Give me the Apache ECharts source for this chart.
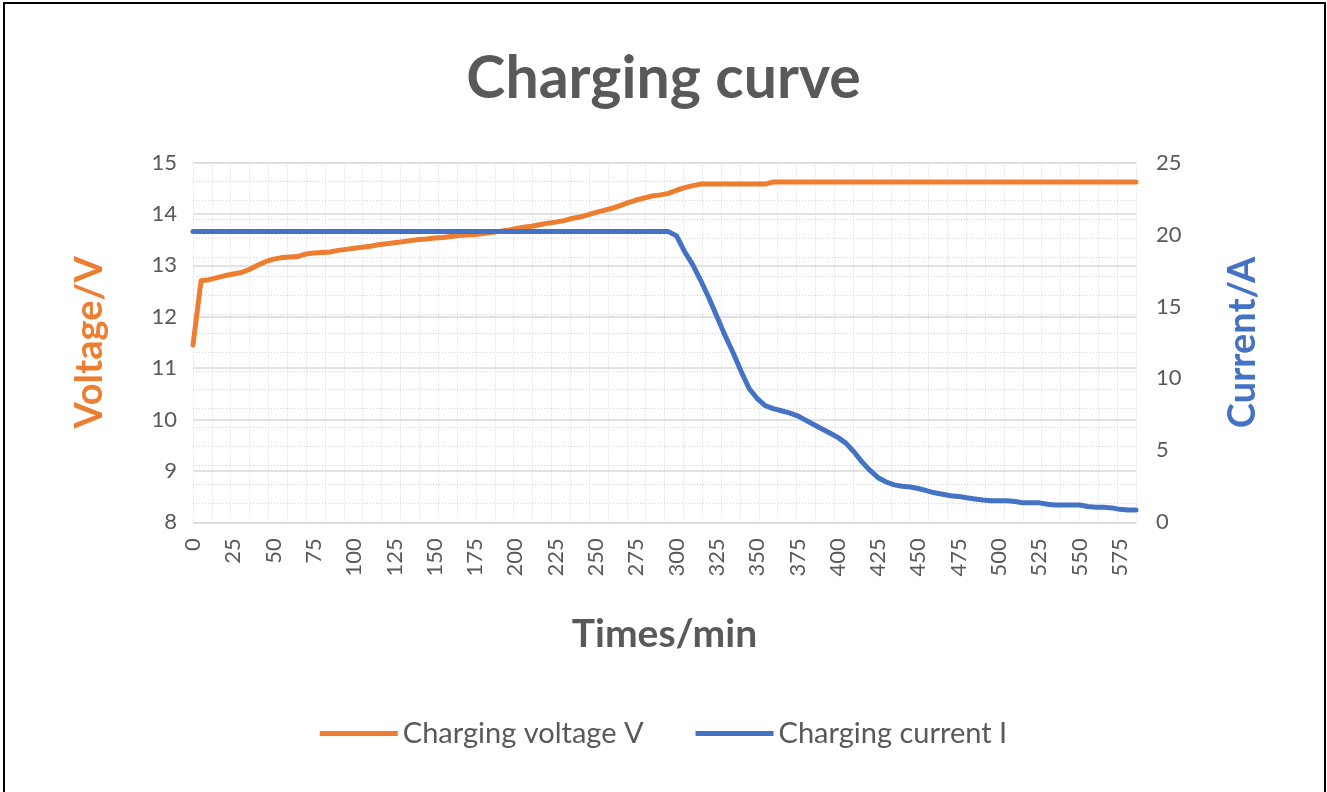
<!DOCTYPE html>
<html>
<head>
<meta charset="utf-8">
<script src="https://cdn.jsdelivr.net/npm/echarts@6/dist/echarts.min.js"></script>
<style>
  html, body { margin: 0; padding: 0; background: #fff; }
  #chart { width: 1327px; height: 792px; }
  #frame { position: absolute; left: 3px; top: 2px; width: 1319px; height: 820px; border: 2px solid #000; pointer-events: none; }
</style>
</head>
<body>
<div id="chart"></div>
<div id="frame"></div>
<script>
const titleText = 'Charging curve';
const xName = 'Times/min';
const leftName = 'Voltage/V';
const rightName = 'Current/A';
const voltageName = 'Charging voltage V';
const currentName = 'Charging current I';

// time in minutes (every 5 min)
const times = [
  0,5,10,15,20,25,30,35,40,45,50,55,60,65,70,75,80,85,90,95,
  100,105,110,115,120,125,130,135,140,145,150,155,160,165,170,175,180,185,190,195,
  200,205,210,215,220,225,230,235,240,245,250,255,260,265,270,275,280,285,290,295,
  300,305,310,315,320,325,330,335,340,345,350,355,360,365,370,375,380,385,390,395,
  400,405,410,415,420,425,430,435,440,445,450,455,460,465,470,475,480,485,490,495,
  500,505,510,515,520,525,530,535,540,545,550,555,560,565,570,575,580,585
];

const voltage = [
  11.45,12.70,12.72,12.76,12.80,12.83,12.86,12.92,13.00,13.07,13.12,13.15,13.16,13.17,13.22,13.24,13.25,13.26,13.29,13.31,
  13.33,13.35,13.37,13.40,13.42,13.44,13.46,13.48,13.50,13.51,13.53,13.54,13.56,13.58,13.59,13.60,13.62,13.64,13.66,13.68,
  13.71,13.74,13.76,13.79,13.82,13.84,13.87,13.91,13.94,13.98,14.03,14.07,14.11,14.16,14.22,14.27,14.31,14.35,14.37,14.40,
  14.46,14.51,14.55,14.58,14.58,14.58,14.58,14.58,14.58,14.58,14.58,14.58,14.62,14.62,14.62,14.62,14.62,14.62,14.62,14.62,
  14.62,14.62,14.62,14.62,14.62,14.62,14.62,14.62,14.62,14.62,14.62,14.62,14.62,14.62,14.62,14.62,14.62,14.62,14.62,14.62,
  14.62,14.62,14.62,14.62,14.62,14.62,14.62,14.62,14.62,14.62,14.62,14.62,14.62,14.62,14.62,14.62,14.62,14.62
];

const current = [
  20.2,20.2,20.2,20.2,20.2,20.2,20.2,20.2,20.2,20.2,20.2,20.2,20.2,20.2,20.2,20.2,20.2,20.2,20.2,20.2,
  20.2,20.2,20.2,20.2,20.2,20.2,20.2,20.2,20.2,20.2,20.2,20.2,20.2,20.2,20.2,20.2,20.2,20.2,20.2,20.2,
  20.2,20.2,20.2,20.2,20.2,20.2,20.2,20.2,20.2,20.2,20.2,20.2,20.2,20.2,20.2,20.2,20.2,20.2,20.2,20.2,
  19.9,18.8,17.9,16.8,15.6,14.3,13.0,11.8,10.5,9.3,8.6,8.1,7.9,7.75,7.6,7.4,7.1,6.8,6.5,6.2,
  5.9,5.5,4.9,4.2,3.6,3.1,2.8,2.6,2.5,2.45,2.35,2.2,2.05,1.95,1.85,1.8,1.7,1.62,1.55,1.5,
  1.5,1.5,1.45,1.35,1.35,1.35,1.25,1.2,1.2,1.2,1.2,1.1,1.05,1.05,1.0,0.9,0.85,0.85
];

const voltageTicks = { min: 8, max: 15, step: 1 };
const currentTicks = { min: 0, max: 25, step: 5 };
const timeTicks = { min: 0, max: 585, step: 25 };

const textGray = '#595959';
const orange = '#ED7D31';
const blue = '#4472C4';
const font = 'Lato, "Open Sans", sans-serif';

const chart = echarts.init(document.getElementById('chart'), null, { renderer: 'canvas' });

const dotted = { show: true, lineStyle: { color: '#d4d4d4', type: [1, 2], width: 1 } };

chart.setOption({
  backgroundColor: '#fff',
  animation: false,
  title: {
    text: titleText,
    left: 'center',
    top: 44,
    textStyle: { fontFamily: font, fontWeight: 'bold', fontSize: 59, color: textGray }
  },
  legend: {
    data: [voltageName, currentName],
    left: 'center',
    top: 714,
    icon: 'rect',
    itemWidth: 78,
    itemHeight: 5,
    itemGap: 52,
    textStyle: { fontFamily: font, fontSize: 29, color: textGray }
  },
  grid: { left: 193, right: 191, top: 162.5, bottom: 269.7, containLabel: false },
  xAxis: [
    {
      type: 'value',
      min: timeTicks.min, max: timeTicks.max, interval: timeTicks.step,
      name: xName, nameLocation: 'middle', nameGap: 93,
      nameTextStyle: { fontFamily: font, fontWeight: 'bold', fontSize: 39, color: textGray },
      axisLine: { show: true, lineStyle: { color: '#d9d9d9', width: 1 } },
      axisTick: { show: false },
      splitLine: { show: false },
      axisLabel: {
        rotate: 90, margin: 16, color: textGray, fontFamily: font, fontSize: 22,
        formatter: v => (v % timeTicks.step === 0 ? String(v) : '')
      }
    },
    {
      type: 'value', position: 'top', min: 0, max: 50, interval: 1,
      axisLine: { show: false }, axisTick: { show: false }, axisLabel: { show: false },
      splitLine: dotted, silent: true
    }
  ],
  yAxis: [
    {
      type: 'value', position: 'left',
      min: voltageTicks.min, max: voltageTicks.max, interval: voltageTicks.step,
      name: leftName, nameLocation: 'middle', nameGap: 84, nameRotate: 90,
      nameTextStyle: { fontFamily: font, fontWeight: 'bold', fontSize: 38, color: orange },
      axisLine: { show: false }, axisTick: { show: false },
      axisLabel: { margin: 16, color: textGray, fontFamily: font, fontSize: 22 },
      splitLine: { show: true, lineStyle: { color: '#d9d9d9', width: 1.5 } },
      z: 3
    },
    {
      type: 'value', position: 'right',
      min: currentTicks.min, max: currentTicks.max, interval: currentTicks.step,
      name: rightName, nameLocation: 'middle', nameGap: 88, nameRotate: 90,
      nameTextStyle: { fontFamily: font, fontWeight: 'bold', fontSize: 38, color: blue },
      axisLine: { show: false }, axisTick: { show: false },
      axisLabel: { margin: 20, color: textGray, fontFamily: font, fontSize: 22 },
      splitLine: { show: false }
    },
    {
      type: 'value', position: 'left', min: 0, max: 19, interval: 1,
      axisLine: { show: false }, axisTick: { show: false }, axisLabel: { show: false },
      splitLine: dotted, silent: true
    }
  ],
  series: [
    {
      name: voltageName, type: 'line', xAxisIndex: 0, yAxisIndex: 0,
      data: times.map((t, i) => [t, voltage[i]]),
      showSymbol: false, symbol: 'none',
      lineStyle: { color: orange, width: 5, cap: 'round', join: 'round' },
      itemStyle: { color: orange },
      z: 5
    },
    {
      name: currentName, type: 'line', xAxisIndex: 0, yAxisIndex: 1,
      data: times.map((t, i) => [t, current[i]]),
      showSymbol: false, symbol: 'none',
      lineStyle: { color: blue, width: 5, cap: 'round', join: 'round' },
      itemStyle: { color: blue },
      z: 6
    }
  ]
});
</script>
</body>
</html>
